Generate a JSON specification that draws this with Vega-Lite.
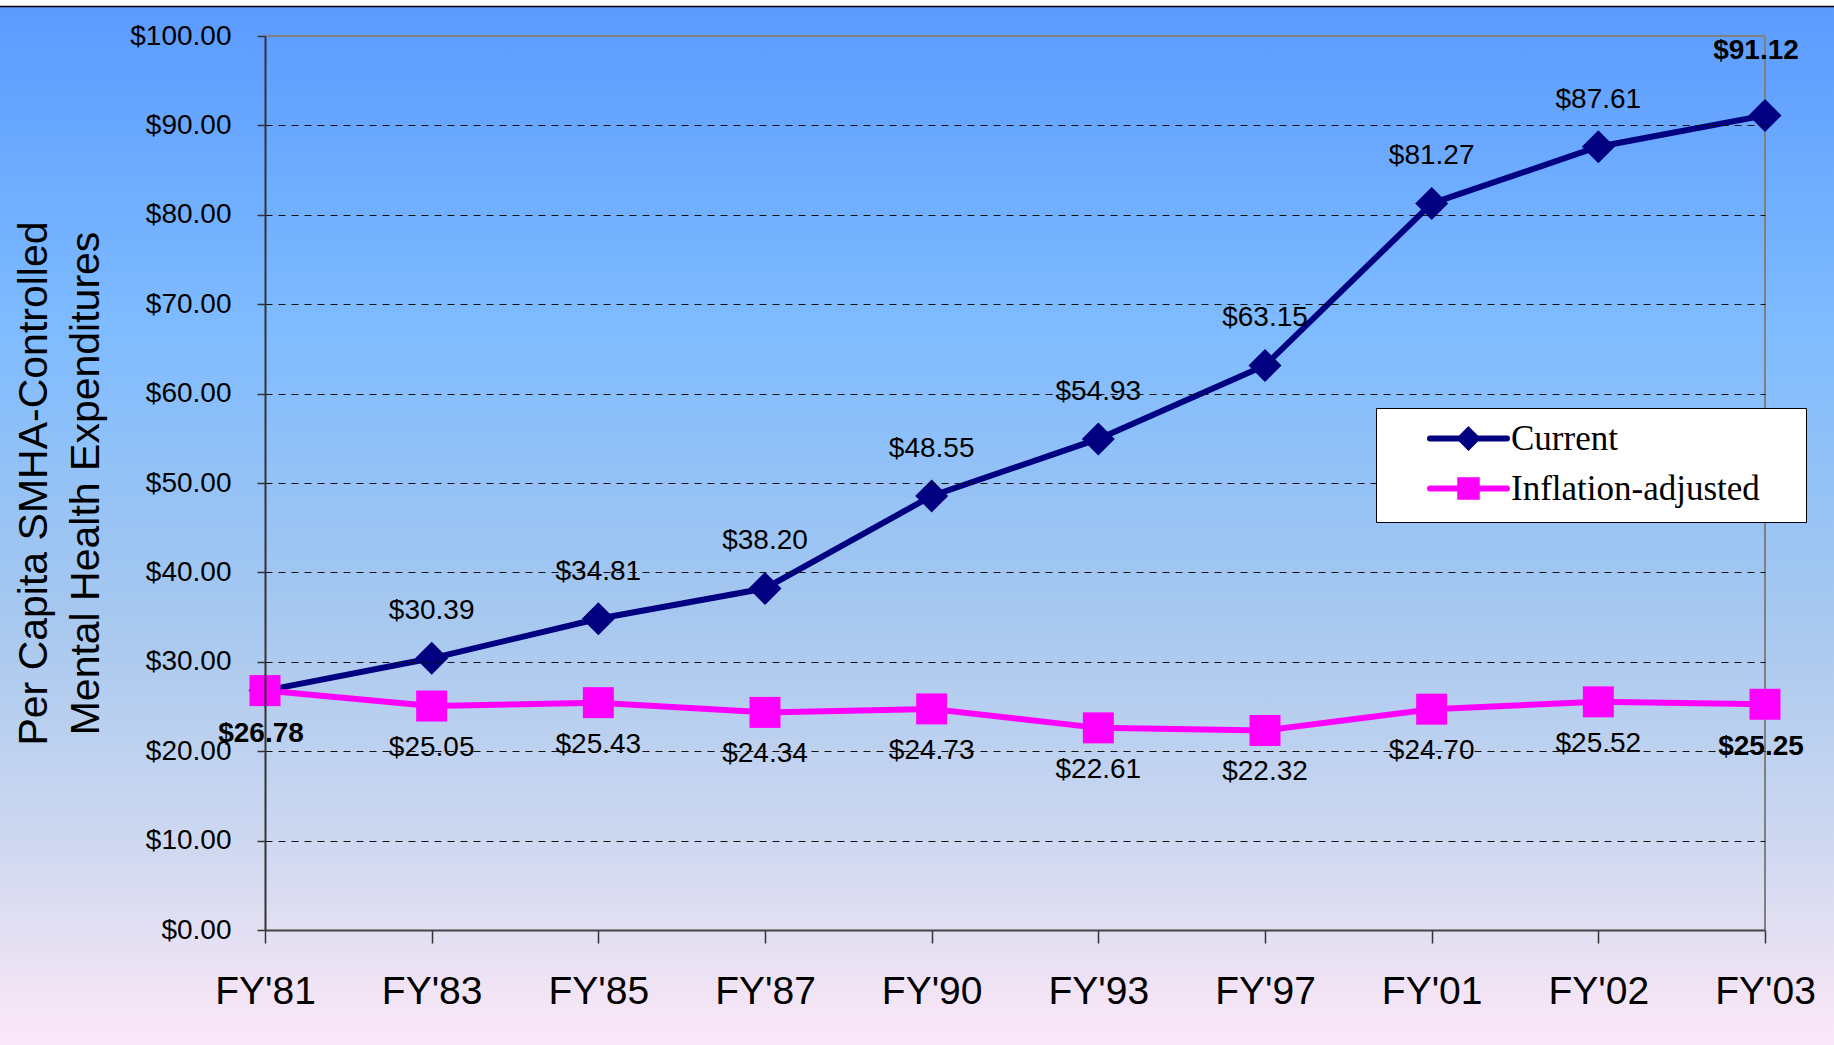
{
  "$schema": "https://vega.github.io/schema/vega-lite/v6.json",
  "width": 1500,
  "height": 894,
  "autosize": {"type": "none"},
  "padding": {"left": 265, "top": 36, "right": 69, "bottom": 115},
  "background": "white",
  "config": {"font": "Liberation Sans", "view": {"stroke": null}, "scale": {"pointPadding": 0}},
  "datasets": {
    "exp": [
      {"series": "Current", "year": "FY'81", "value": 26.78},
      {"series": "Current", "year": "FY'83", "value": 30.39},
      {"series": "Current", "year": "FY'85", "value": 34.81},
      {"series": "Current", "year": "FY'87", "value": 38.20},
      {"series": "Current", "year": "FY'90", "value": 48.55},
      {"series": "Current", "year": "FY'93", "value": 54.93},
      {"series": "Current", "year": "FY'97", "value": 63.15},
      {"series": "Current", "year": "FY'01", "value": 81.27},
      {"series": "Current", "year": "FY'02", "value": 87.61},
      {"series": "Current", "year": "FY'03", "value": 91.12},
      {"series": "Inflation-adjusted", "year": "FY'81", "value": 26.78},
      {"series": "Inflation-adjusted", "year": "FY'83", "value": 25.05},
      {"series": "Inflation-adjusted", "year": "FY'85", "value": 25.43},
      {"series": "Inflation-adjusted", "year": "FY'87", "value": 24.34},
      {"series": "Inflation-adjusted", "year": "FY'90", "value": 24.73},
      {"series": "Inflation-adjusted", "year": "FY'93", "value": 22.61},
      {"series": "Inflation-adjusted", "year": "FY'97", "value": 22.32},
      {"series": "Inflation-adjusted", "year": "FY'01", "value": 24.70},
      {"series": "Inflation-adjusted", "year": "FY'02", "value": 25.52},
      {"series": "Inflation-adjusted", "year": "FY'03", "value": 25.25}
    ]
  },
  "resolve": {"scale": {"x": "independent", "y": "independent"}},
  "layer": [
    {
      "data": {"values": [{}]},
      "mark": {
        "type": "rect",
        "stroke": "black",
        "strokeWidth": 1.5,
        "fill": {
          "gradient": "linear",
          "x1": 0, "y1": 0, "x2": 0, "y2": 1,
          "stops": [
            {"offset": 0, "color": "#5B9BFF"},
            {"offset": 0.03, "color": "#5E9EFF"},
            {"offset": 0.3, "color": "#7EBBFF"},
            {"offset": 0.58, "color": "#A7C8EF"},
            {"offset": 0.79, "color": "#CED8F0"},
            {"offset": 0.96, "color": "#F8E6F6"},
            {"offset": 1, "color": "#FBE6F7"}
          ]
        }
      },
      "encoding": {
        "x": {"datum": -0.25, "type": "quantitative", "scale": {"domain": [0, 1], "nice": false, "zero": false}, "axis": null},
        "x2": {"datum": 1.1},
        "y": {"datum": -15, "type": "quantitative", "scale": {"domain": [0, 100], "nice": false, "zero": false}, "axis": null},
        "y2": {"datum": 103.3}
      }
    },
    {
      "data": {"name": "exp"},
      "layer": [
        {
          "data": {"values": [{}]},
          "mark": {"type": "rule", "color": "#808080", "strokeWidth": 2},
          "encoding": {"y": {"datum": 100, "type": "quantitative"}}
        },
        {
          "data": {"values": [{}]},
          "mark": {"type": "rule", "color": "#808080", "strokeWidth": 2},
          "encoding": {"x": {"datum": "FY'03", "type": "ordinal", "scale": {"type": "point", "padding": 0}}}
        },
        {
          "mark": {"type": "line", "strokeWidth": 6},
          "encoding": {
            "x": {
              "field": "year", "type": "ordinal",
              "scale": {"type": "point", "domain": ["FY'81", "FY'83", "FY'85", "FY'87", "FY'90", "FY'93", "FY'97", "FY'01", "FY'02", "FY'03"], "padding": 0},
              "axis": {
                "orient": "bottom", "title": null, "labelAngle": 0, "labelAlign": "center", "labelBaseline": "top",
                "labelFontSize": 39, "labelColor": "black",
                "labelPadding": 29, "tickSize": 13, "tickColor": "#333", "tickWidth": 1.5,
                "domainColor": "#444", "domainWidth": 2, "grid": false, "zindex": 1
              }
            },
            "y": {
              "field": "value", "type": "quantitative",
              "scale": {"domain": [0, 100], "nice": false, "zero": false},
              "axis": {
                "orient": "left",
                "values": [0, 10, 20, 30, 40, 50, 60, 70, 80, 90, 100],
                "format": "$.2f", "labelFontSize": 28, "labelColor": "black", "labelPadding": 26,
                "tickSize": 8, "tickColor": "#333", "tickWidth": 1.5,
                "domainColor": "#333", "domainWidth": 2,
                "grid": true, "gridDash": [7, 6], "gridWidth": 1,
                "gridColor": {"condition": {"test": "datum.value == 100 || datum.value == 0", "value": "transparent"}, "value": "#111"},
                "title": ["Per Capita SMHA-Controlled", "Mental Health Expenditures"],
                "titleFontSize": 41, "titleFontWeight": "normal", "titleColor": "black",
                "titleLineHeight": 52, "titlePadding": 22, "zindex": 1
              }
            },
            "color": {
              "field": "series", "type": "nominal",
              "scale": {"domain": ["Current", "Inflation-adjusted"], "range": ["#000080", "#FF00FF"]},
              "legend": {
                "orient": "none", "legendX": 1111, "legendY": 372, "title": null,
                "fillColor": "white", "strokeColor": "black",
                "padding": 13, "rowPadding": 9, "symbolOffset": 62, "labelOffset": 25,
                "symbolSize": 484, "symbolStrokeWidth": 6,
                "labelFont": "Liberation Serif", "labelFontSize": 35, "labelColor": "black", "labelLimit": 600,
                "labelExpr": "datum.label + '\u2009\u2800'",
                "zindex": 1,
                "encode": {
                  "symbols": {
                    "update": {
                      "shape": {"signal": "datum.value == 'Current' ? 'M-3.5,0H3.5M0,-0.75L0.75,0L0,0.75L-0.75,0Z' : 'M-3.5,0H3.5M-0.75,-0.75H0.75V0.75H-0.75Z'"},
                      "fill": {"scale": "color", "field": "value"},
                      "stroke": {"scale": "color", "field": "value"},
                      "strokeWidth": {"value": 6},
                      "strokeCap": {"value": "round"},
                      "opacity": {"value": 1}
                    }
                  }
                }
              }
            }
          }
        },
        {
          "transform": [{"filter": {"field": "series", "equal": "Current"}}],
          "mark": {"type": "point", "filled": true, "opacity": 1, "size": 1090, "shape": "diamond", "color": "#000080"},
          "encoding": {
            "x": {"field": "year", "type": "ordinal"},
            "y": {"field": "value", "type": "quantitative"}
          }
        },
        {
          "transform": [{"filter": {"field": "series", "equal": "Inflation-adjusted"}}],
          "mark": {"type": "point", "filled": true, "opacity": 1, "size": 960, "shape": "square", "color": "#FF00FF"},
          "encoding": {
            "x": {"field": "year", "type": "ordinal"},
            "y": {"field": "value", "type": "quantitative"}
          }
        },
        {
          "transform": [{"filter": {"and": [{"field": "series", "equal": "Current"}, {"not": {"field": "year", "oneOf": ["FY'81", "FY'03"]}}]}}],
          "mark": {"type": "text", "fontSize": 28, "color": "black", "baseline": "middle", "dy": -47},
          "encoding": {
            "x": {"field": "year", "type": "ordinal"},
            "y": {"field": "value", "type": "quantitative"},
            "text": {"field": "value", "type": "quantitative", "format": "$.2f"}
          }
        },
        {
          "transform": [{"filter": {"and": [{"field": "series", "equal": "Current"}, {"field": "year", "equal": "FY'03"}]}}],
          "mark": {"type": "text", "fontSize": 28, "fontWeight": "bold", "color": "black", "baseline": "middle", "dx": -9, "dy": -64},
          "encoding": {
            "x": {"field": "year", "type": "ordinal"},
            "y": {"field": "value", "type": "quantitative"},
            "text": {"field": "value", "type": "quantitative", "format": "$.2f"}
          }
        },
        {
          "transform": [{"filter": {"and": [{"field": "series", "equal": "Inflation-adjusted"}, {"not": {"field": "year", "oneOf": ["FY'81", "FY'03"]}}]}}],
          "mark": {"type": "text", "fontSize": 28, "color": "black", "baseline": "middle", "dy": 42},
          "encoding": {
            "x": {"field": "year", "type": "ordinal"},
            "y": {"field": "value", "type": "quantitative"},
            "text": {"field": "value", "type": "quantitative", "format": "$.2f"}
          }
        },
        {
          "transform": [{"filter": {"and": [{"field": "series", "equal": "Inflation-adjusted"}, {"field": "year", "oneOf": ["FY'81", "FY'03"]}]}}],
          "mark": {"type": "text", "fontSize": 28, "fontWeight": "bold", "color": "black", "baseline": "middle", "dx": -4, "dy": 43},
          "encoding": {
            "x": {"field": "year", "type": "ordinal"},
            "y": {"field": "value", "type": "quantitative"},
            "text": {"field": "value", "type": "quantitative", "format": "$.2f"}
          }
        }
      ]
    }
  ]
}
